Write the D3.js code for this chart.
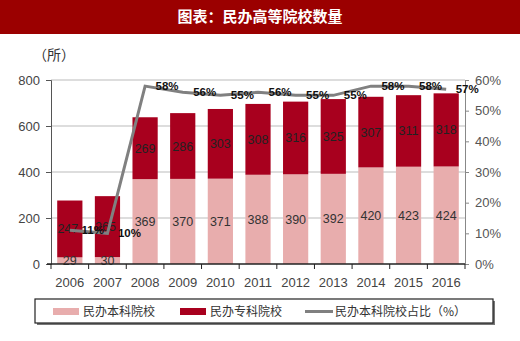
<!DOCTYPE html>
<html><head><meta charset="utf-8">
<script src="https://cdn.jsdelivr.net/npm/d3@7/dist/d3.min.js"></script>
<style>body{margin:0;background:#fff}svg{display:block}</style>
</head><body>
<script>
const years = ["2006","2007","2008","2009","2010","2011","2012","2013","2014","2015","2016"];
const undergrad = [29,30,369,370,371,388,390,392,420,423,424];
const vocational = [247,265,269,286,303,308,316,325,307,311,318];
const shareLabels = ["11%","10%","58%","56%","55%","56%","55%","55%","58%","58%","57%"];
const shareValues = [11,10,58,56,55,56,55,55,58,58,57];
const leftTicks = [0,200,400,600,800];
const rightTicks = [0,10,20,30,40,50,60];

const W=520,H=341;
const svg=d3.select("body").append("svg").attr("width",W).attr("height",H);
const font="Liberation Sans, Arial, sans-serif";
const cjk="Noto Sans CJK SC, sans-serif";
const pink="#E8ADAD", red="#A8001E", gray="#808080";

// title band
svg.append("rect").attr("x",0).attr("y",0).attr("width",W).attr("height",34).attr("fill","#9B0000");
svg.append("text").attr("x",260).attr("y",22).attr("text-anchor","middle").attr("fill","#fff")
  .attr("font-family",cjk).attr("font-weight","bold").attr("font-size",15).text("图表：民办高等院校数量");

const L=51,R=465,T=80,B=264;
const x=d3.scaleBand().domain(years).range([L,R]).paddingInner(0.33).paddingOuter(0.165);
const y=d3.scaleLinear().domain([0,800]).range([B,T]);
const y2=d3.scaleLinear().domain([0,60]).range([B,T]);

// unit label
svg.append("text").attr("x",33).attr("y",60).attr("font-family",cjk).attr("font-size",14).attr("fill","#333").text("（所）");

// gridlines
svg.append("g").selectAll("line").data(leftTicks.filter(d=>d>0)).join("line")
  .attr("x1",L).attr("x2",R).attr("y1",d=>y(d)).attr("y2",d=>y(d)).attr("stroke","#bbb").attr("stroke-width",1);

// bars
const g=svg.append("g");
g.selectAll(".u").data(years).join("rect").attr("x",d=>x(d)).attr("width",x.bandwidth())
  .attr("y",(d,i)=>y(undergrad[i])).attr("height",(d,i)=>B-y(undergrad[i])).attr("fill",pink);
g.selectAll(".v").data(years).join("rect").attr("x",d=>x(d)).attr("width",x.bandwidth())
  .attr("y",(d,i)=>y(undergrad[i]+vocational[i])).attr("height",(d,i)=>y(undergrad[i])-y(undergrad[i]+vocational[i])).attr("fill",red);

// bar labels
g.selectAll(".ul").data(years).join("text").attr("x",d=>x(d)+x.bandwidth()/2)
  .attr("y",(d,i)=>(y(undergrad[i])+B)/2+4.5).attr("text-anchor","middle")
  .attr("font-family",font).attr("font-size",12.5).attr("fill","#333").text((d,i)=>undergrad[i]);
g.selectAll(".vl").data(years).join("text").attr("x",(d,i)=>x(d)+x.bandwidth()/2-(i<2?2:0))
  .attr("y",(d,i)=>(y(undergrad[i])+y(undergrad[i]+vocational[i]))/2+4.5).attr("text-anchor","middle")
  .attr("font-family",font).attr("font-size",12.5).attr("fill","#222").text((d,i)=>vocational[i]);

// axes
const ax=svg.append("g").attr("transform",`translate(${L},0)`).call(d3.axisLeft(y).tickValues(leftTicks).tickSize(5).tickPadding(6));
ax.select(".domain").attr("stroke","#555");
ax.selectAll(".tick line").attr("stroke","#555");
ax.selectAll("text").attr("font-family",font).attr("font-size",13).attr("fill","#444");

const ar=svg.append("g").attr("transform",`translate(${R},0)`).call(d3.axisRight(y2).tickValues(rightTicks).tickSize(4).tickPadding(6).tickFormat(d=>d+"%"));
ar.select(".domain").attr("stroke","#888");
ar.selectAll(".tick line").attr("stroke","#888");
ar.selectAll("text").attr("font-family",font).attr("font-size",13).attr("fill","#555");

const ab=svg.append("g").attr("transform",`translate(0,${B})`);
ab.append("line").attr("x1",L-4).attr("x2",R).attr("stroke","#222").attr("stroke-width",1.5);
ab.selectAll(".t").data(d3.range(years.length+1)).join("line")
  .attr("x1",i=>L+i*x.step()).attr("x2",i=>L+i*x.step()).attr("y1",0).attr("y2",5).attr("stroke","#222");
ab.selectAll(".xl").data(years).join("text").attr("x",d=>x(d)+x.bandwidth()/2).attr("y",23)
  .attr("text-anchor","middle").attr("font-family",font).attr("font-size",13).attr("fill","#444").text(d=>d);

// line
const cx=d=>x(d)+x.bandwidth()/2;
svg.append("path").datum(years).attr("fill","none").attr("stroke",gray).attr("stroke-width",3)
  .attr("d",d3.line().x(d=>cx(d)).y((d,i)=>y2(shareValues[i])));
svg.selectAll(".sl").data(years).join("text").attr("x",(d,i)=>cx(d)+(i===0?23:i===10?21:22)).attr("y",(d,i)=>y2(shareValues[i])+4)
  .attr("text-anchor","middle").attr("font-family",font).attr("font-weight","bold").attr("font-size",11.5)
  .attr("fill","#111").text((d,i)=>shareLabels[i]);

// legend
svg.append("rect").attr("x",37).attr("y",301).attr("width",458).attr("height",24).attr("fill","#777");
svg.append("rect").attr("x",35).attr("y",299).attr("width",458).attr("height",24).attr("fill","#fff").attr("stroke","#222").attr("stroke-width",1.2);
const leg=[{t:"民办本科院校",c:pink,x:53,type:"rect"},{t:"民办专科院校",c:red,x:180,type:"rect"},{t:"民办本科院校占比（%）",c:gray,x:305,type:"line"}];
leg.forEach(l=>{
  if(l.type==="rect") svg.append("rect").attr("x",l.x).attr("y",308).attr("width",26).attr("height",7).attr("fill",l.c);
  else svg.append("line").attr("x1",l.x).attr("x2",l.x+28).attr("y1",311.5).attr("y2",311.5).attr("stroke",l.c).attr("stroke-width",3);
  svg.append("text").attr("x",l.x+30).attr("y",316).attr("font-family",cjk).attr("font-size",12).attr("fill","#333").text(l.t);
});
</script>
</body></html>
